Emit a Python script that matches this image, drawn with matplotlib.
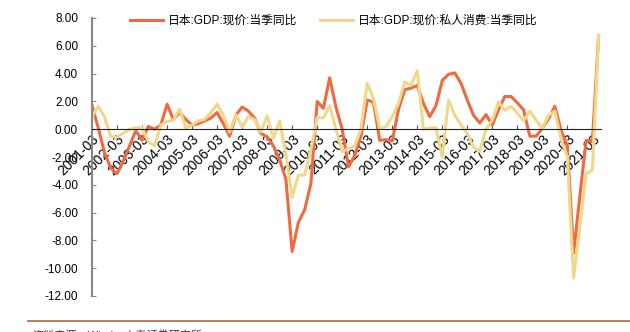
import numpy as np
import matplotlib
matplotlib.use("Agg")
import matplotlib.pyplot as plt
from matplotlib.lines import Line2D

plt.rcParams['font.family'] = ['Liberation Sans', 'Noto Sans CJK SC', 'DejaVu Sans']

# quarterly, 2001-03 .. 2021-06
gdp = [1.7, 0.1, -1.7, -2.8, -3.2, -2.3, -1.2, -0.1, -0.8, 0.2,
       0.0, 0.3, 1.8, 0.7, 1.2, 0.7, 0.3, 0.4, 0.6, 0.8,
       1.2, 0.4, -0.5, 1.0, 1.6, 1.3, 0.8, -0.3, -0.55, -1.2,
       -2.2, -3.6, -8.8, -6.7, -5.8, -3.9, 2.0, 1.5, 3.7, 1.6,
       0.0, -2.7, -1.9, -0.5, 2.1, 1.95, -0.8, -0.75, -0.85, 1.4,
       2.85, 2.95, 3.15, 1.85, 0.9, 1.7, 3.5, 3.95, 4.05, 3.3,
       2.1, 1.0, 0.45, 1.05, 0.3, 1.4, 2.35, 2.35, 1.9, 1.4,
       -0.5, -0.5, 0.05, 0.75, 1.65, -0.1, -1.2, -8.9, -4.8, -0.8,
       -0.9, 6.75]
consumption = [0.9, 1.65, 0.9, -0.55, -0.55, -0.3, 0.0, 0.1, 0.1, -0.9,
               -1.2, 0.3, 0.55, 0.65, 1.45, 0.1, 0.3, 0.6, 0.7, 1.2,
               1.8, 1.0, -0.2, 1.05, 0.15, 0.9, 0.7, -0.2, 0.95, -0.65,
               0.6, -1.8, -4.9, -3.3, -3.3, -1.5, 0.85, 0.8, 1.7, 0.0,
               -1.6, -1.4, -1.2, 0.0, 3.3, 2.2, 0.05, 0.2, 0.9, 1.85,
               3.4, 3.15, 4.2, 0.0, 0.1, 0.1, -2.0, 2.1, 1.0, 0.3,
               -0.3, -1.3, -1.6, 0.0, 0.65, 1.95, 1.35, 1.65, 1.15, 0.6,
               1.3, 0.65, 0.05, 1.0, 1.3, -0.7, -2.0, -10.7, -7.0, -3.2,
               -2.95, 6.75]
tick_labels = [f"{y}-03" for y in range(2001, 2022)]
series_names = ["日本:GDP:现价:当季同比", "日本:GDP:现价:私人消费:当季同比"]

x = np.arange(len(gdp))

fig = plt.figure(figsize=(6.3, 3.32), dpi=100)
ax = fig.add_axes([92 / 630, 1 - 296 / 332, (600.5 - 92) / 630, (296 - 18) / 332])

ax.plot(x, gdp, color="#EE6A40", lw=2.2, label=series_names[0])
ax.plot(x, consumption, color="#F0D88A", lw=2.2, label=series_names[1])

ax.set_xlim(0, 81.3)
ax.set_ylim(-12, 8)
ax.set_yticks(np.arange(-12, 9, 2))
ax.set_yticklabels([f"{v:.2f}" for v in np.arange(-12, 9, 2)], fontsize=8.5)
ax.set_xticks(np.arange(0, len(gdp), 4))
ax.set_xticklabels(tick_labels, fontsize=8)

for s in ["top", "right"]:
    ax.spines[s].set_visible(False)
ax.spines["bottom"].set_position(("data", 0))
ax.spines["bottom"].set_color("#222222")
ax.spines["left"].set_color("#888888")
ax.spines["left"].set_linewidth(1.5)
ax.tick_params(axis="y", direction="in", length=3, color="#888888", pad=10)
ax.tick_params(axis="x", direction="in", length=3, color="#555555", pad=2)
for lbl in ax.get_xticklabels():
    lbl.set_rotation(45)
    lbl.set_rotation_mode("anchor")
    lbl.set_ha("right")
    lbl.set_va("top")

fig.legend(loc="center", bbox_to_anchor=(0.53, 1 - 21 / 332), ncol=2,
           frameon=False, fontsize=8.5, handlelength=2.8, columnspacing=1.9,
           handletextpad=0.4)

fig.add_artist(Line2D([28 / 630, 1], [1 - 321 / 332] * 2, color="#B0643F", lw=1.2))
fig.text(32 / 630, 1 - 330 / 332, "资料来源：Wind，中泰证券研究所", fontsize=8,
         va="top", ha="left", color="#333333")

fig.savefig("out.png", dpi=100)
